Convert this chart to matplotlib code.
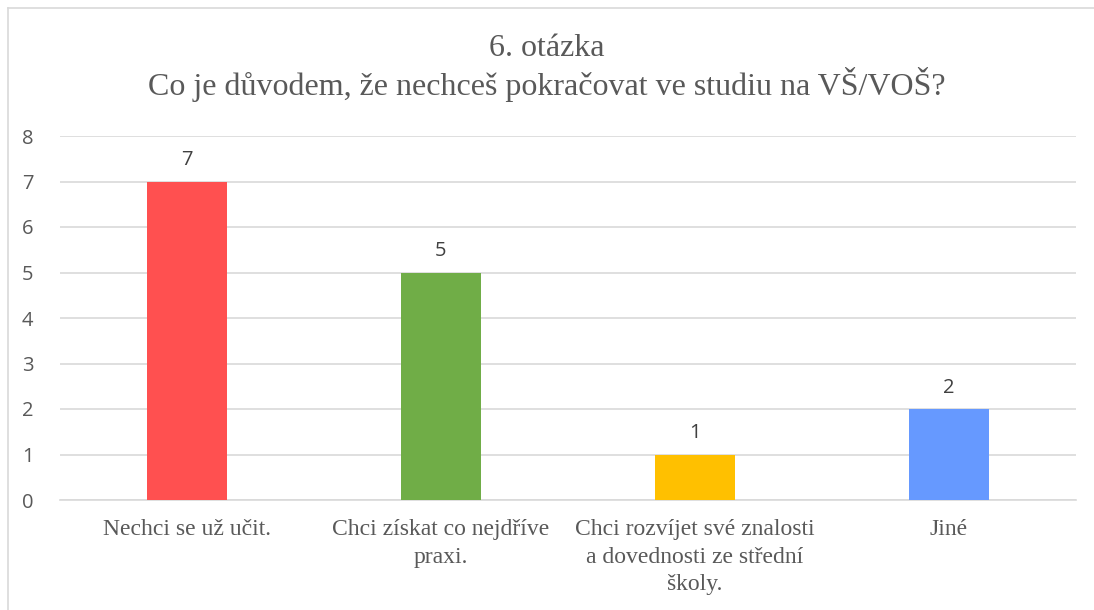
import matplotlib
matplotlib.use("Agg")
import matplotlib.pyplot as plt
from matplotlib.lines import Line2D

categories = ["Nechci se už učit.", "Chci získat co nejdříve\npraxi.",
              "Chci rozvíjet své znalosti\na dovednosti ze střední\nškoly.", "Jiné"]
values = [7, 5, 1, 2]
colors = ["#FF5050", "#70AD47", "#FFC000", "#6699FF"]
yticks = [0, 1, 2, 3, 4, 5, 6, 7, 8]
title = "6. otázka\nCo je důvodem, že nechceš pokračovat ve studiu na VŠ/VOŠ?"

fig = plt.figure(figsize=(10.94, 6.10), dpi=100)
ax = fig.add_axes([60/1094, 1-500/610, 1016/1094, 364/610])

x = list(range(len(categories)))
bars = ax.bar(x, values, width=0.315, color=colors, zorder=3)
ax.set_xlim(-0.5, len(categories)-0.5)
ax.set_ylim(0, 8)
ax.set_yticks(yticks)
ax.yaxis.grid(True, color="#D9D9D9", linewidth=1.2, zorder=0)
for s in ["top", "right", "left"]:
    ax.spines[s].set_visible(False)
ax.spines["bottom"].set_color("#D9D9D9")
ax.spines["bottom"].set_linewidth(1.2)
ax.tick_params(axis="both", length=0)
ax.tick_params(axis="y", labelsize=14.5, labelcolor="#595959", pad=19)
for lab in ax.get_yticklabels():
    lab.set_family("Open Sans")
ax.set_xticks(x)
ax.set_xticklabels(categories, family="Liberation Serif", fontsize=17, color="#595959",
                   linespacing=1.38)
ax.tick_params(axis="x", pad=14)

for xi, v in zip(x, values):
    ax.annotate(str(v), (xi, v), xytext=(0, 8), textcoords="offset points",
                ha="center", va="bottom", fontsize=14.5, color="#404040", family="Open Sans")

fig.text(0.5, 1-68/610, title, ha="center", va="center", family="Liberation Serif",
         fontsize=23, color="#595959", linespacing=1.15)

fig.add_artist(Line2D([8/1094, 8/1094], [0, 1-8/610], transform=fig.transFigure,
                      color="#D9D9D9", linewidth=1.2))
fig.add_artist(Line2D([8/1094, 1], [1-8/610, 1-8/610], transform=fig.transFigure,
                      color="#D9D9D9", linewidth=1.2))

fig.savefig("out.png", dpi=100)
